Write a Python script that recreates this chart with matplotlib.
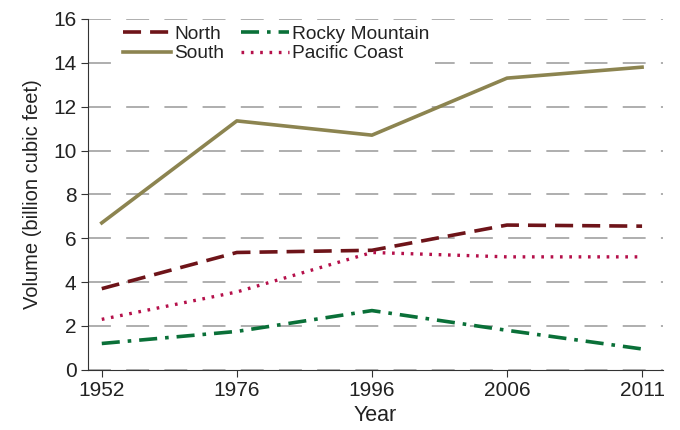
import matplotlib.pyplot as plt

years = ['1952', '1976', '1996', '2006', '2011']
north = [3.7, 5.35, 5.45, 6.6, 6.55]
south = [6.7, 11.35, 10.7, 13.3, 13.8]
rocky = [1.2, 1.75, 2.7, 1.8, 0.95]
pacific = [2.3, 3.55, 5.35, 5.15, 5.15]

plt.rcParams['font.family'] = ['Liberation Sans', 'DejaVu Sans']

fig = plt.figure(figsize=(6.8, 4.3), dpi=100)
ax = fig.add_axes([0.129, 0.14, 0.846, 0.816])

x = list(range(len(years)))
ax.plot(x, north, color='#6e1419', lw=2.6, dashes=(5, 2.5), label='North')
ax.plot(x, south, color='#8c8450', lw=2.6, label='South')
ax.plot(x, rocky, color='#0a7038', lw=2.6, dashes=(5, 2.2, 1, 2.2), label='Rocky Mountain')
ax.plot(x, pacific, color='#b5104a', lw=2.4, dashes=(0.8, 2), label='Pacific Coast')

ax.set_xlim(-0.104, 4.155)
ax.set_ylim(0, 16)
ax.set_xticks(x)
ax.set_xticklabels(years)
ax.set_yticks(range(0, 17, 2))
ax.yaxis.grid(True, color='#999999', linestyle=(0, (15, 10)), lw=1.1)
ax.set_axisbelow(True)
for s in ['top', 'right']:
    ax.spines[s].set_visible(False)
ax.spines['left'].set_color('#333333')
ax.spines['bottom'].set_color('#333333')
ax.tick_params(labelsize=15, color='#333333', labelcolor='#222222', length=5, pad=3)
ax.set_xlabel('Year', fontsize=15.5, color='#222222', labelpad=4)
ax.set_ylabel('Volume (billion cubic feet)', fontsize=14.5, color='#222222', labelpad=8)

leg = ax.legend(ncol=2, loc='upper left', bbox_to_anchor=(0.035, 1.025), frameon=True,
                fontsize=13.8, handlelength=2.5, columnspacing=0.9, labelspacing=0.1,
                borderpad=0.3, handletextpad=0.15)
leg.get_frame().set_edgecolor('none')
leg.get_frame().set_facecolor('white')
leg.get_frame().set_alpha(1)
for t in leg.get_texts():
    t.set_color('#222222')

fig.savefig('out.png', dpi=100)
